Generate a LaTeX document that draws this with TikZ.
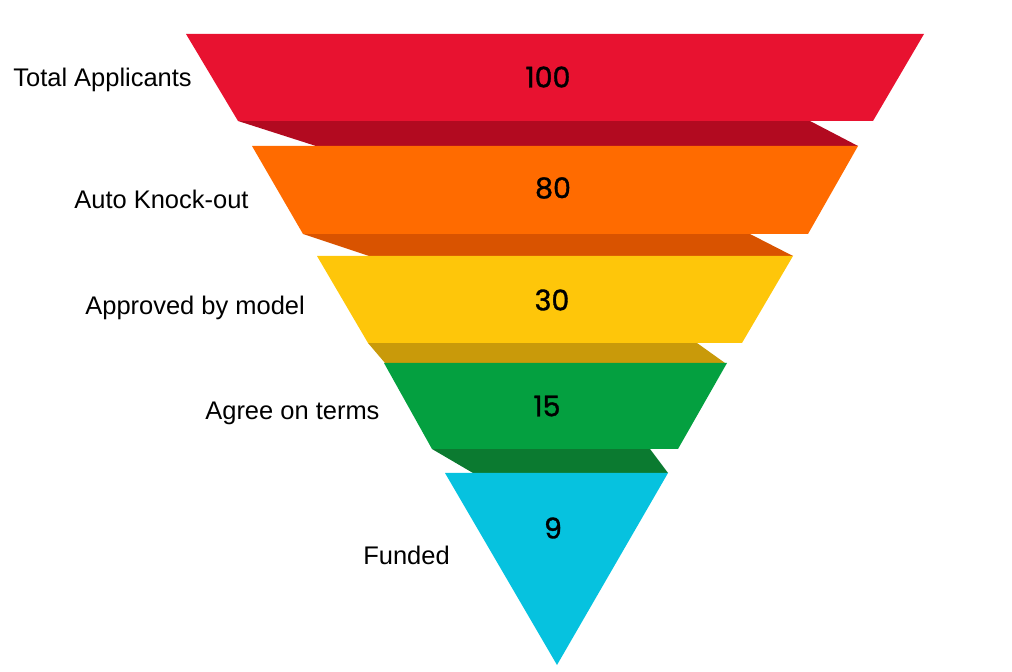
\documentclass[tikz,border=0pt]{standalone}
\usepackage{fontspec}
\setmainfont{Liberation Sans}
\newfontfamily\numfont[FakeBold=1.2]{Poppins}
\usepackage{tikz}
\definecolor{FunRed}{HTML}{E81230}
\definecolor{FunRedDark}{HTML}{B20A20}
\definecolor{FunOrange}{HTML}{FF6B00}
\definecolor{FunOrangeDark}{HTML}{D95300}
\definecolor{FunYellow}{HTML}{FEC60A}
\definecolor{FunYellowDark}{HTML}{C99A0A}
\definecolor{FunGreen}{HTML}{04A040}
\definecolor{FunGreenDark}{HTML}{0B7A30}
\definecolor{FunCyan}{HTML}{06C2DF}

\begin{document}
\begin{tikzpicture}[
x=0.02cm, y=-0.02cm,
lbl/.style={font=\fontsize{14.5}{16}\selectfont, anchor=base west, inner sep=0pt},
num/.style={font=\numfont\fontsize{16.2}{18}\selectfont, inner sep=0pt}
]
\useasboundingbox (0,0) rectangle (1012,672);

% shadow strips under each band
\fill[FunRedDark] (238,121) -- (810,121) -- (858,146) -- (316,146) -- cycle;
\fill[FunOrangeDark] (303,234) -- (750,234) -- (793,256) -- (369,256) -- cycle;
\fill[FunYellowDark] (368,343) -- (697,343) -- (725,363) -- (385,363) -- cycle;
\fill[FunGreenDark] (432,449) -- (650,449) -- (668,473) -- (473,473) -- cycle;

% front faces
\fill[FunRed] (186,34) -- (924,34) -- (873,121) -- (238,121) -- cycle;
\fill[FunOrange] (252,146) -- (858,146) -- (808,234) -- (303,234) -- cycle;
\fill[FunYellow] (317,256) -- (793,256) -- (742,343) -- (368,343) -- cycle;
\fill[FunGreen] (384,363) -- (727,363) -- (678,449) -- (432,449) -- cycle;
\fill[FunCyan] (445,473) -- (668,473) -- (557,665) -- cycle;

\node[num] (n100) at (548,77) {100};
\node[num] (n80) at (553,188) {80};
\node[num] (n30) at (552,300) {30};
\node[num] (n15) at (547,406) {15};
\node[num] (n9) at (553,528) {9};

\node[lbl] (total) at (13,86.7) {Total Applicants};
\node[lbl] (knock) at (74,209) {Auto Knock-out};
\node[lbl] (model) at (85,315) {Approved by model};
\node[lbl] (terms) at (205,420) {Agree on terms};
\node[lbl] (funded) at (363,564) {Funded};
\end{tikzpicture}
\end{document}
